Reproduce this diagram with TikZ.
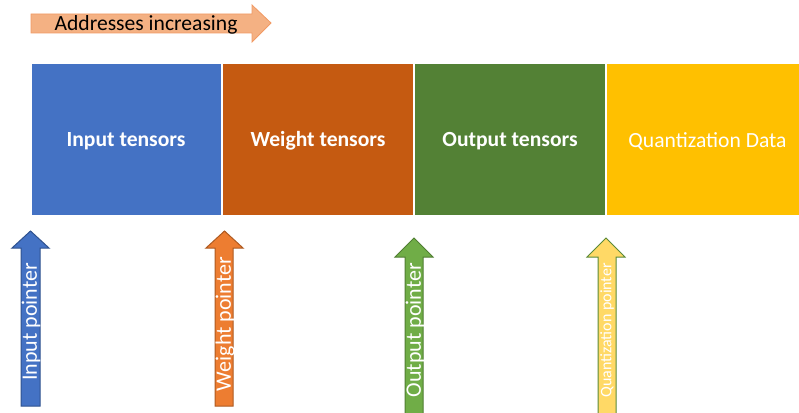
\documentclass[tikz,border=0pt]{standalone}
\usepackage{fontspec}
\setmainfont{Carlito}
\definecolor{cblue}{HTML}{4472C4}
\definecolor{cbluedk}{HTML}{2F528F}
\definecolor{corange}{HTML}{C55A11}
\definecolor{corangelt}{HTML}{ED7D31}
\definecolor{corangedk}{HTML}{AE5A21}
\definecolor{cgreen}{HTML}{538135}
\definecolor{cgreenlt}{HTML}{70AD47}
\definecolor{cgreendk}{HTML}{507E32}
\definecolor{cgold}{HTML}{FFC000}
\definecolor{cyellow}{HTML}{FFD966}
\definecolor{csalmon}{HTML}{F4B183}
\definecolor{csalmondk}{HTML}{F19A64}
\tikzset{
  membox/.style={fill=#1, draw=white, line width=1pt},
  boxtext/.style={text=white, font=\fontsize{21.6}{24}\selectfont\bfseries},
  ptrtext/.style={text=white, rotate=90, font=\fontsize{22}{24}\selectfont, inner sep=0pt},
  uparrow/.style={line width=1pt, line join=miter}
}
\begin{document}
\begin{tikzpicture}[x=1pt, y=-1pt]
\useasboundingbox (0,0) rectangle (799,412);
% top arrow
\draw[fill=csalmon, draw=csalmondk, line width=0.8pt]
  (31,14) -- (252,14) -- (252,5) -- (271,23) -- (252,42) -- (252,33) -- (31,33) -- cycle;
\node[font=\fontsize{21.6}{24}\selectfont, text=black, inner sep=0pt] (addr) at (146,25) {Addresses increasing};
% memory boxes
\fill[membox=cblue] (31,63) rectangle (222,215);
\fill[membox=corange] (222,63) rectangle (414,215);
\fill[membox=cgreen] (414,63) rectangle (606,215);
\fill[membox=cgold] (606,63) rectangle (800,215);
\draw[white, line width=1.5pt] (222,63) -- (222,215) (414,63) -- (414,215) (606,63) -- (606,215);
\node[boxtext] (inp) at (126,141) {Input tensors};
\node[boxtext] (wgt) at (318,141) {Weight tensors};
\node[boxtext] (outp) at (510,141) {Output tensors};
\node[text=white, font=\fontsize{21.6}{24}\selectfont] (quant) at (707.5,141) {Quantization Data};
% pointer arrows
\draw[uparrow, fill=cblue, draw=cbluedk]
  (21,406) -- (21,248) -- (12,248) -- (30.5,231) -- (49,248) -- (40,248) -- (40,406) -- cycle;
\node[ptrtext] (pin) at (31,322) {Input pointer};
\draw[uparrow, fill=corangelt, draw=corangedk]
  (215,406) -- (215,248) -- (206,248) -- (224.5,231) -- (243,248) -- (233,248) -- (233,406) -- cycle;
\node[ptrtext] (pw) at (225,324) {Weight pointer};
\draw[uparrow, fill=cgreenlt, draw=cgreendk]
  (405,420) -- (405,257) -- (395,257) -- (414,238) -- (433,257) -- (423,257) -- (423,420) -- cycle;
\node[ptrtext] (po) at (415,330) {Output pointer};
\draw[uparrow, fill=cyellow, draw=cgreenlt!80!black]
  (598,420) -- (598,257) -- (587,257) -- (606,238) -- (625,257) -- (616,257) -- (616,420) -- cycle;
\node[ptrtext, font=\fontsize{16}{18}\selectfont] (pq) at (607,330.5) {Quantization pointer};
\end{tikzpicture}
\end{document}
